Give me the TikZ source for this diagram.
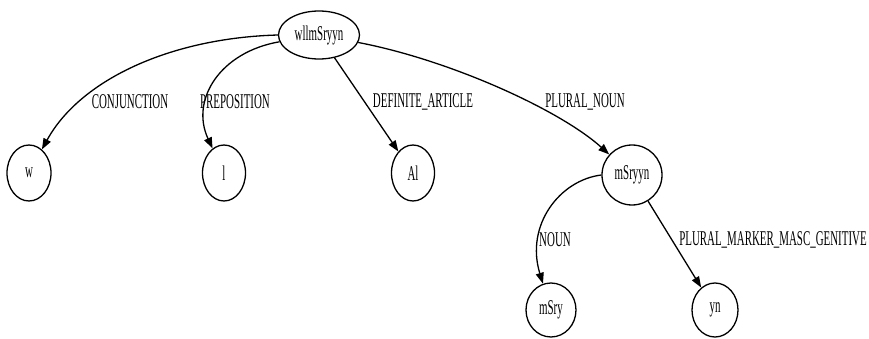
\documentclass[tikz,border=0pt]{standalone}
\usepackage{fontspec}
\usepackage{tikz}
\usetikzlibrary{shapes.geometric,arrows.meta}
\newfontfamily\gvfont[FakeStretch=0.52]{Liberation Serif}

\begin{document}
\begin{tikzpicture}[x=1pt, y=-1pt, line width=1.3pt,
  main/.style = {draw, ellipse, inner sep=0pt, font=\gvfont\fontsize{21}{24}\selectfont},
  lbl/.style = {inner sep=0pt, font=\gvfont\fontsize{21}{24}\selectfont},
  edge/.style = {-{Triangle[length=11pt,width=8pt]}}]
\useasboundingbox (0,0) rectangle (869,339);
%\node[parameter] (nodeID) at (x,y) {label};
\node[main, minimum width=81pt, minimum height=48pt] (root) at (319,35) {wllmSryyn};
\node[main, minimum width=44pt, minimum height=56pt] (w) at (29,173) {w};
\node[main, minimum width=43pt, minimum height=56pt] (l) at (224,173) {l};
\node[main, minimum width=43pt, minimum height=56pt] (Al) at (413,173) {Al};
\node[main, minimum width=60pt, minimum height=60pt] (mSryyn) at (632,175) {mSryyn};
\node[main, minimum width=50pt, minimum height=54pt] (mSry) at (551,310) {mSry};
\node[main, minimum width=46pt, minimum height=54pt] (yn) at (715,310) {yn};
\node[lbl] (lconj) at (130,102) {CONJUNCTION};
\node[lbl] (lprep) at (235,102) {PREPOSITION};
\node[lbl] (ldef) at (423,102) {DEFINITE\_ARTICLE};
\node[lbl] (lpl) at (585,102) {PLURAL\_NOUN};
\node[lbl] (lnoun) at (555,240) {NOUN};
\node[lbl] (lmark) at (773,240) {PLURAL\_MARKER\_MASC\_GENITIVE};
\draw[edge] (root.west) .. controls (170,38) and (80,80) .. (w);
\draw[edge] (root) .. controls (220,52) and (190,100) .. (l);
\draw[edge] (root) -- (Al);
\draw[edge] (root) .. controls (450,60) and (560,110) .. (mSryyn);
\draw[edge] (mSryyn.west) .. controls (560,180) and (525,225) .. (mSry);
\draw[edge] (mSryyn) -- (yn);
\end{tikzpicture}
\end{document}
